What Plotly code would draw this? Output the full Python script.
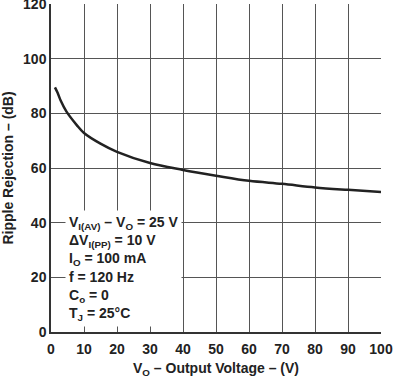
import plotly.graph_objects as go

vo = [1.2, 2, 3, 4.7, 7.8, 10, 15, 20, 30, 40, 50, 60, 70, 80, 90, 100]
rr = [89.5, 87.5, 84.5, 80.6, 75.7, 72.8, 68.9, 65.9, 61.8, 59.3, 57.2, 55.3, 54.2, 52.9, 52.0, 51.2]

x_ticks = list(range(0, 101, 10))
y_ticks = list(range(0, 121, 20))

cond_lines = [
    "V<sub>I(AV)</sub> – V<sub>O</sub> = 25 V",
    "ΔV<sub>I(PP)</sub> = 10 V",
    "I<sub>O</sub> = 100 mA",
    "f = 120 Hz",
    "C<sub>o</sub> = 0",
    "T<sub>J</sub> = 25°C",
]

font = "Liberation Sans, Arial, sans-serif"

fig = go.Figure()
fig.add_trace(go.Scatter(x=vo, y=rr, mode="lines", line=dict(color="#222222", width=2.5, shape="spline"),
                         hoverinfo="skip", showlegend=False))

fig.add_annotation(
    x=0.042, y=0.194, xref="paper", yref="paper", xanchor="left", yanchor="middle",
    text="<b>" + "<br>".join(cond_lines) + "</b>", showarrow=False, align="left",
    font=dict(family=font, size=14, color="#222222"), bgcolor="white", borderpad=3,
)

fig.update_xaxes(
    range=[0, 100], tickmode="array", tickvals=x_ticks, ticktext=[f"<b>{v}</b>" for v in x_ticks],
    showgrid=True, gridcolor="#555555", gridwidth=1, zeroline=False,
    showline=True, linecolor="#333333", linewidth=1.5, ticks="",
    tickfont=dict(family=font, size=14, color="#222222"), ticklabeloverflow="allow",
    ticklabelstandoff=3, automargin=False,
    title=dict(text="<b>V<sub>O</sub> – Output Voltage – (V)</b>", font=dict(family=font, size=14, color="#222222"), standoff=12),
)
fig.update_yaxes(
    range=[0, 120], tickmode="array", tickvals=y_ticks, ticktext=[f"<b>{v}</b>" for v in y_ticks],
    showgrid=True, gridcolor="#555555", gridwidth=1, zeroline=False,
    showline=True, linecolor="#333333", linewidth=1.5, ticks="",
    tickfont=dict(family=font, size=14, color="#222222"), ticklabeloverflow="allow",
    automargin=False,
    title=dict(text="<b>Ripple Rejection – (dB)</b>", font=dict(family=font, size=14, color="#222222"), standoff=6),
)

fig.update_layout(
    width=393, height=378,
    margin=dict(l=51, r=12, t=4, b=46, autoexpand=False),
    paper_bgcolor="white", plot_bgcolor="white",
)

fig.write_html("out.html", config={"displayModeBar": False},
               post_script="document.body.style.margin='0';")
